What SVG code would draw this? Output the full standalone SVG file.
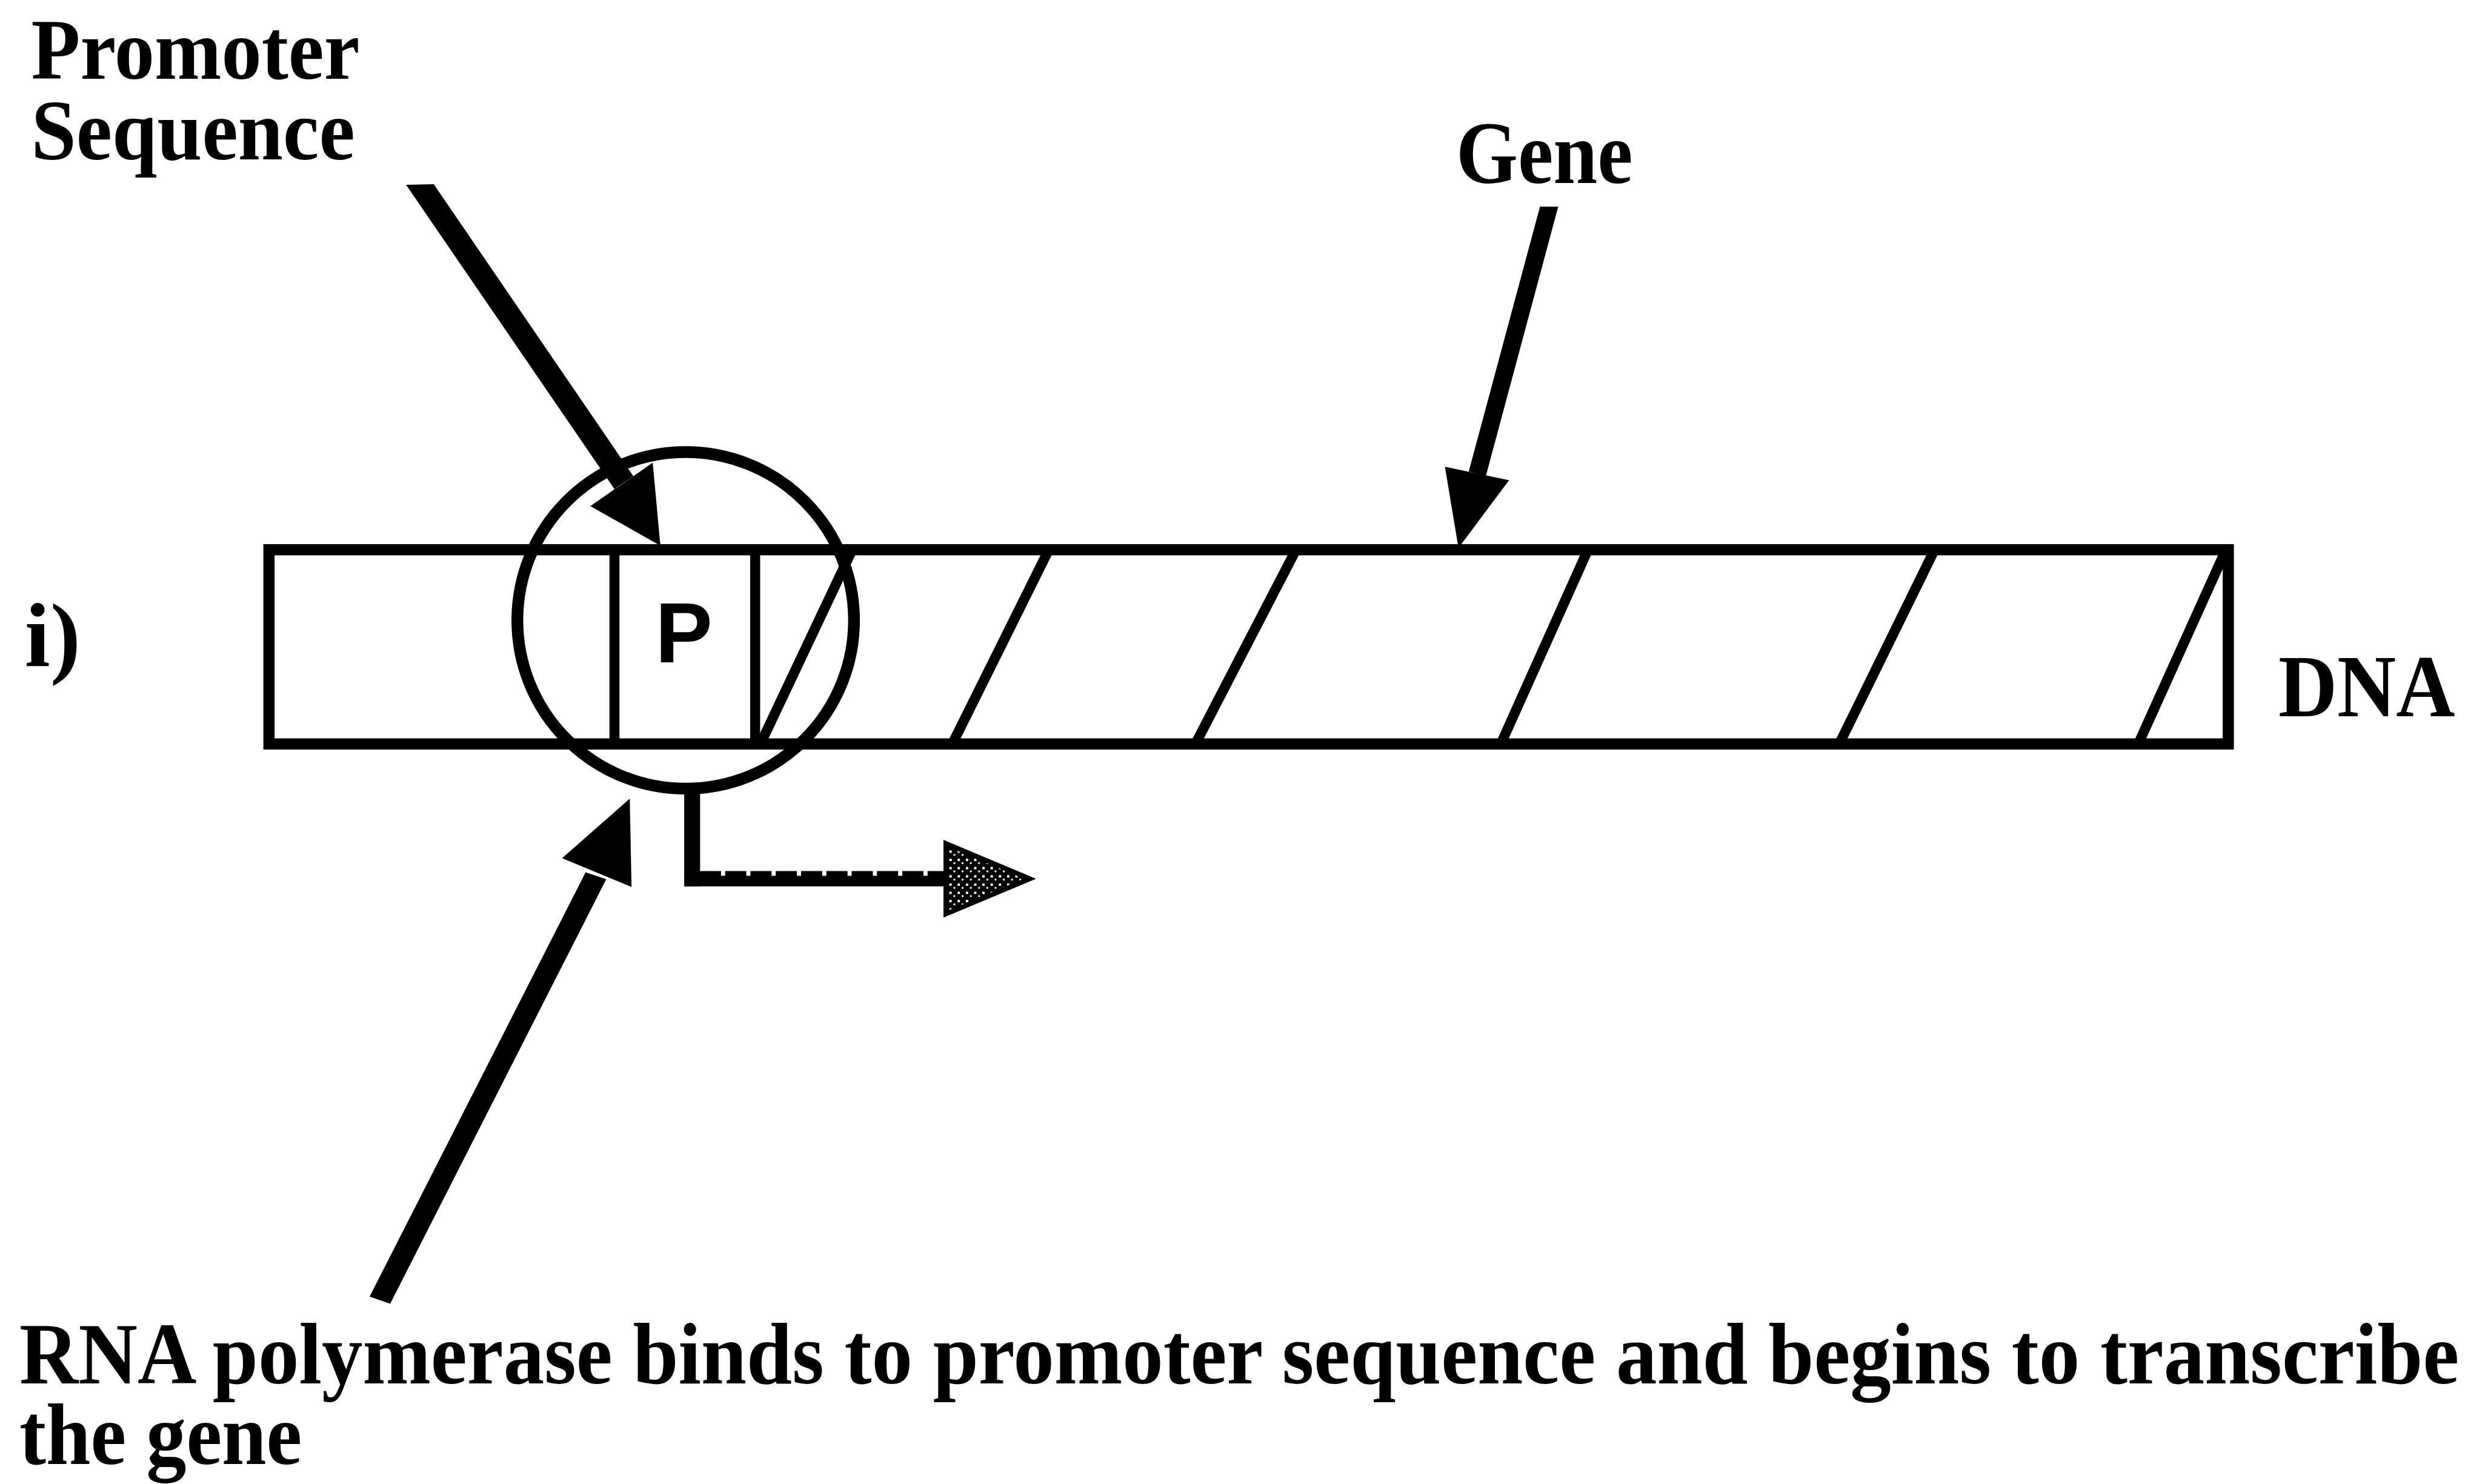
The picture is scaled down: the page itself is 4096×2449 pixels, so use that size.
<svg xmlns="http://www.w3.org/2000/svg" width="4096" height="2449" viewBox="0 0 4096 2449">
<style>
.lbl{font-family:"Liberation Serif","Times New Roman",serif;font-weight:bold;fill:#000}
.pl{font-family:"Liberation Sans",Arial,sans-serif;font-weight:bold;fill:#000}
.ln{stroke:#000;fill:none;stroke-linecap:butt}
.head{fill:#000;stroke:none}
</style>
<defs>
<pattern id="stip" width="14" height="14" patternUnits="userSpaceOnUse">
<rect width="14" height="14" fill="#000"/>
<rect x="3" y="3" width="4" height="4" fill="#fff"/>
<rect x="10" y="9" width="3" height="3" fill="#fff"/>
</pattern>
</defs>
<rect width="4096" height="2449" fill="#fff"/>
<g transform="scale(0.9713)">
<g id="dna">
<rect x="457" y="934" width="3329" height="330" class="ln" stroke-width="19"/>
<line x1="1044" y1="934" x2="1044" y2="1264" class="ln" stroke-width="17"/>
<line x1="1283" y1="934" x2="1283" y2="1264" class="ln" stroke-width="17"/>
<line x1="1292" y1="1264" x2="1448" y2="934" class="ln" stroke-width="17"/>
<line x1="1618" y1="1264" x2="1782" y2="934" class="ln" stroke-width="17"/>
<line x1="2031" y1="1264" x2="2202" y2="934" class="ln" stroke-width="17"/>
<line x1="2550" y1="1264" x2="2698" y2="934" class="ln" stroke-width="17"/>
<line x1="3125" y1="1264" x2="3287" y2="934" class="ln" stroke-width="17"/>
<line x1="3633" y1="1264" x2="3782" y2="934" class="ln" stroke-width="17"/>
</g>
<g id="promoter-box">
<text x="1162" y="1125" class="pl" font-size="146" text-anchor="middle">P</text>
</g>
<g id="binding-site">
<circle cx="1165" cy="1054" r="286" class="ln" stroke-width="20"/>
</g>
<g id="label-promoter">
<text x="53" y="134" class="lbl" font-size="146" textLength="558" lengthAdjust="spacingAndGlyphs">Promoter</text>
<text x="53" y="271" class="lbl" font-size="146" textLength="550" lengthAdjust="spacingAndGlyphs">Sequence</text>
</g>
<g id="label-gene">
<text x="2474" y="311" class="lbl" font-size="150" textLength="300" lengthAdjust="spacingAndGlyphs">Gene</text>
</g>
<g id="label-i">
<text x="42" y="1132" class="lbl" font-size="155" textLength="95" lengthAdjust="spacingAndGlyphs">i)</text>
</g>
<g id="label-dna">
<text x="3871" y="1217" class="lbl" font-size="150" textLength="300" lengthAdjust="spacingAndGlyphs">DNA</text>
</g>
<g id="label-rna">
<text transform="translate(33,2350) scale(1,1.065)" x="0" y="0" class="lbl" font-size="139">RNA polymerase binds to promoter sequence and begins to transcribe</text>
<text x="33" y="2487" class="lbl" font-size="148" textLength="480" lengthAdjust="spacingAndGlyphs">the gene</text>
</g>
<g id="connectors">
<g id="arrow-promoter">
<polygon class="head" points="690,314 737,313 1076,809 1044,831"/>
<polygon class="head" points="1003,860 1109,786 1122,927"/>
</g>
<g id="arrow-gene">
<polygon class="head" points="2616.5,351 2647.5,351 2524.5,809 2495.5,801"/>
<polygon class="head" points="2455,793 2564,816 2478,931"/>
</g>
<g id="arrow-rna">
<polygon class="head" points="995,1482 1030,1494 663,2215 628,2203"/>
<polygon class="head" points="955,1458 1070,1357 1073,1507"/>
</g>
<g id="arrow-transcription">
<line x1="1176" y1="1338" x2="1176" y2="1506" class="ln" stroke-width="27"/>
<line x1="1163" y1="1497" x2="1612" y2="1497" class="ln" stroke-width="18"/>
<line x1="1189" y1="1485" x2="1607" y2="1485" class="ln" stroke-width="10" stroke-dasharray="36 7"/>
<polygon points="1607,1433 1750,1493 1607,1553" fill="url(#stip)" stroke="#000" stroke-width="8" stroke-linejoin="miter"/>
</g>
</g>
</g>
</svg>
